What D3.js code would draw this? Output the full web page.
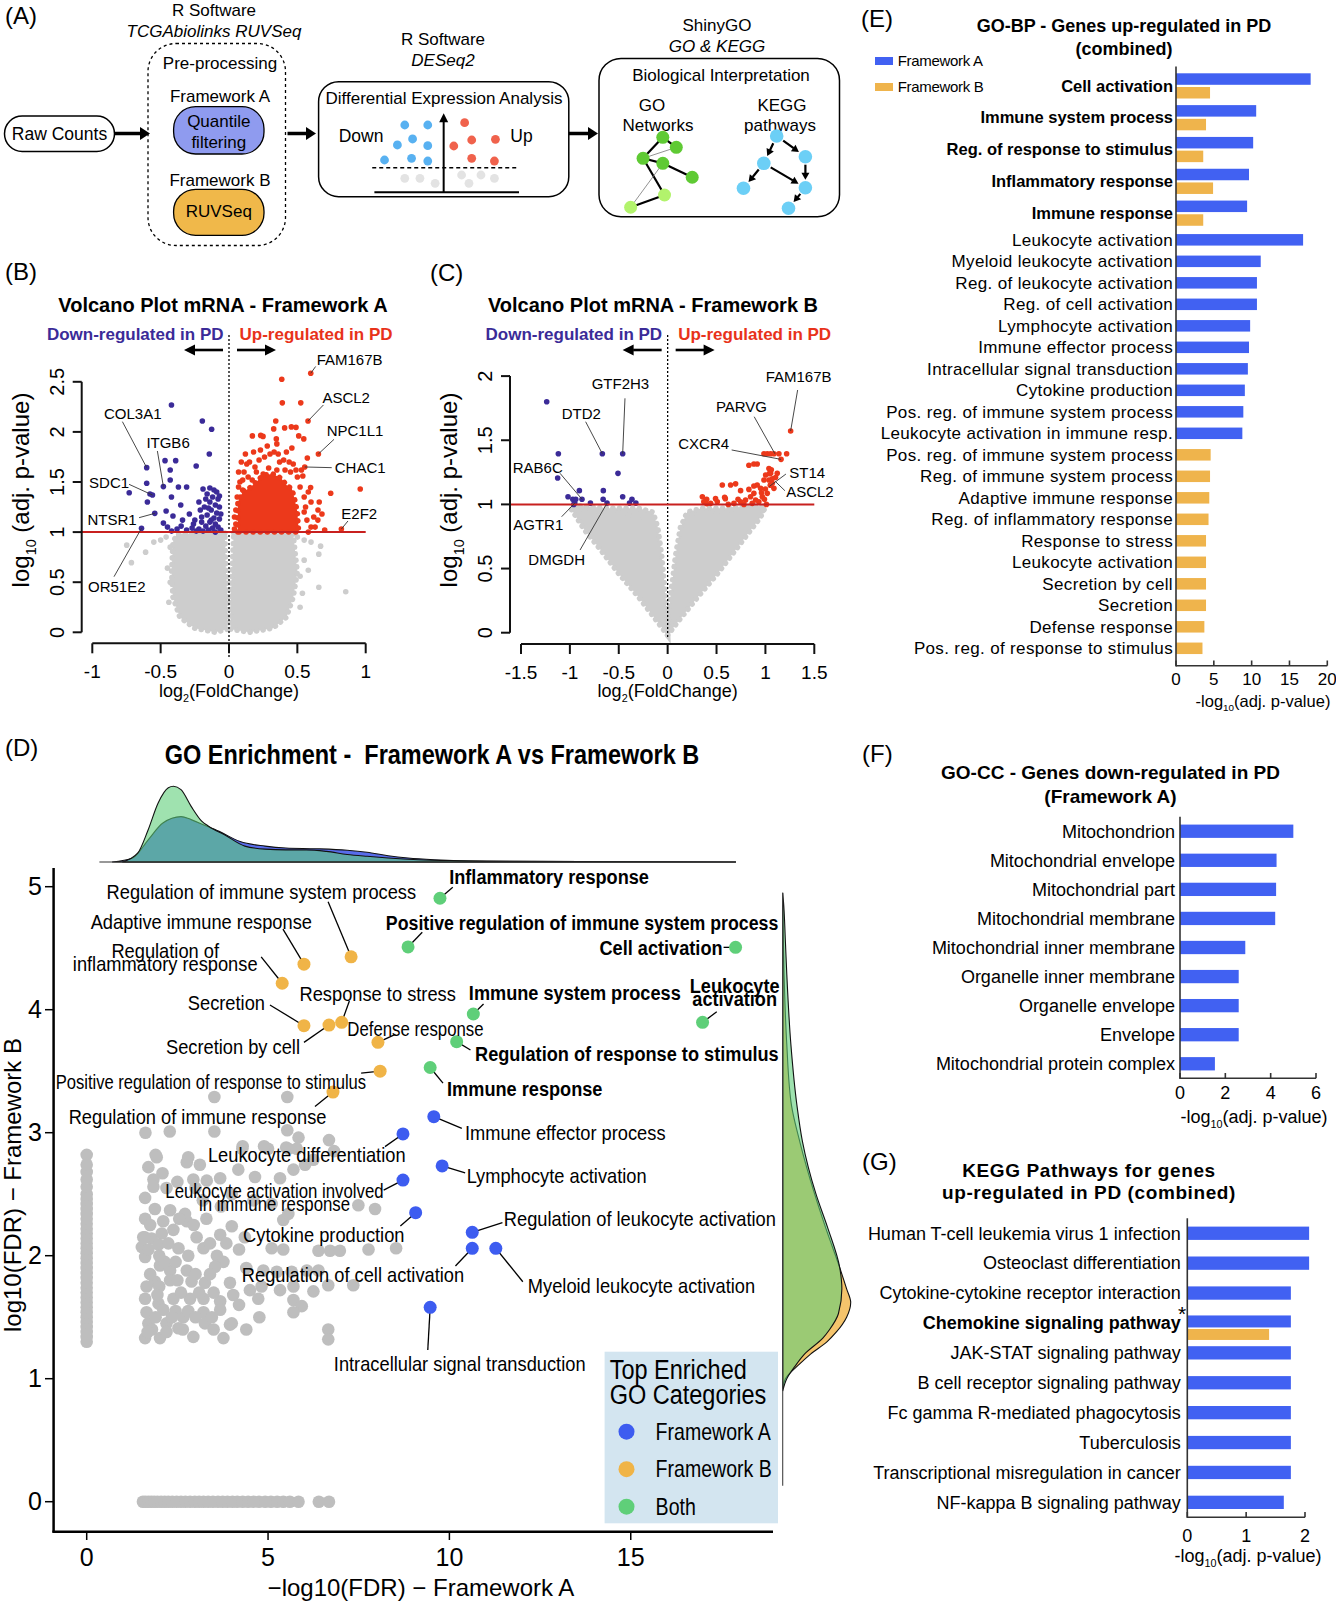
<!DOCTYPE html>
<html>
<head>
<meta charset="utf-8">
<script src="https://cdn.jsdelivr.net/npm/d3@7/dist/d3.min.js"></script>
<style>
html,body{margin:0;padding:0;background:#fff;}
svg{display:block;}
text{white-space:pre;}
</style>
</head>
<body>
<svg id="fig" width="1336" height="1605" xmlns="http://www.w3.org/2000/svg"></svg>
<script>
// ======================= DATA =======================
// ---- Panel A schematic (abstract icon units) ----
const deIconDown = [[2.10,8.52],[3.69,8.52],[1.59,5.99],[2.64,6.75],[3.69,5.90],[0.70,4.09],[2.57,4.30],[3.69,3.96]];
const deIconUp = [[6.24,8.81],[5.49,5.86],[6.73,6.62],[8.37,6.71],[6.73,4.30],[8.30,3.96]];
const deIconNS = [[2.10,1.77],[3.15,1.77],[4.20,1.14],[6.03,2.19],[6.54,1.14],[7.37,2.19],[8.30,1.77]];
const goNetNodes = [[50.4,8.6,"d"],[68.4,20.4,"d"],[24.1,33.3,"d"],[50.4,39.2,"d"],[89.6,55.6,"d"],[52.7,76.5,"l"],[7.5,90.9,"l"]];
const goNetEdges = [[0,1,1],[0,2,1],[2,3,1],[3,4,1],[2,5,1],[5,6,1],[2,1,0],[3,6,0]];
const keggNodes = [[52.1,7.1],[88.0,31.4],[36.0,39.2],[10.6,68.6],[88.0,67.9],[66.9,92.1]];
const keggEdges = [[0,2],[0,1],[1,4],[2,3],[2,4],[4,5]];

// ---- Panel B: Volcano Framework A  [log2FC, log10 adj p] ----
const volcA_xTicks = [-1,-0.5,0,0.5,1];
const volcA_yTicks = [0,0.5,1,1.5,2,2.5];
const volcA_grayLeft = [[-0.03,0.99],[-0.2,0.99],[-0.38,0.98],[-0.41,0.9],[-0.42,0.6],[-0.41,0.35],[-0.36,0.15],[-0.25,0.04],[-0.1,0.0],[-0.012,0.03],[-0.012,0.3],[-0.025,0.7]];
const volcA_grayRight = [[0.035,0.99],[0.25,0.99],[0.47,0.98],[0.48,0.85],[0.5,0.6],[0.47,0.35],[0.42,0.15],[0.32,0.04],[0.15,0.0],[0.012,0.03],[0.012,0.3],[0.025,0.7]];
const volcA_grayPts = [[-0.748,0.87],[-0.714,0.695],[-0.61,0.80],[-0.55,0.9],[-0.5,0.92],[-0.45,0.64],[0.67,0.86],[0.657,0.78],[0.55,0.72],[0.537,0.39],[0.478,0.46],[0.657,0.45],[0.854,0.405],[0.52,0.56],[0.58,0.62],[-0.46,0.95],[-0.43,0.85],[0.5,0.95],[0.55,0.92],[0.6,0.9],[-0.44,0.3],[0.52,0.25],[-0.43,0.5]];
const volcA_down = [[-0.421,2.268],[-0.195,2.109],[-0.127,2.026],[-0.144,1.78],[-0.602,1.643],[-0.468,1.713],[-0.39,1.713],[-0.43,1.62],[-0.24,1.66],[-0.602,1.487],[-0.48,1.454],[-0.43,1.52],[-0.37,1.45],[-0.31,1.45],[-0.73,1.393],[-0.578,1.38],[-0.56,1.37],[-0.597,1.3],[-0.543,1.187],[-0.64,1.038],[-0.421,1.35],[-0.353,1.27],[-0.46,1.21],[-0.41,1.16],[-0.34,1.12],[-0.29,1.18],[-0.25,1.12],[-0.21,1.22],[-0.17,1.33],[-0.22,1.30],[-0.19,1.43],[-0.14,1.44],[-0.11,1.42],[-0.09,1.40],[-0.16,1.38],[-0.12,1.35],[-0.08,1.33],[-0.14,1.30],[-0.10,1.27],[-0.18,1.25],[-0.07,1.25],[-0.13,1.22],[-0.09,1.19],[-0.16,1.17],[-0.11,1.14],[-0.07,1.13],[-0.20,1.10],[-0.14,1.10],[-0.10,1.08],[-0.17,1.06],[-0.12,1.04],[-0.08,1.05],[-0.06,1.02],[-0.15,1.02],[-0.22,1.03],[-0.27,1.04],[-0.31,1.02],[-0.38,1.03],[-0.45,1.05],[-0.48,1.09],[-0.42,1.01],[-0.35,1.06],[-0.26,1.08],[-0.24,1.01],[-0.19,1.01],[-0.10,1.0],[-0.13,1.12],[-0.06,1.18],[-0.07,1.36],[-0.15,1.24],[-0.20,1.15]];
const volcA_upCore = [[0.065,1.0],[0.065,1.3],[0.1,1.4],[0.15,1.44],[0.2,1.5],[0.25,1.57],[0.32,1.58],[0.38,1.54],[0.42,1.47],[0.46,1.43],[0.48,1.33],[0.5,1.2],[0.51,1.0]];
const volcA_up = [[0.598,2.585],[0.386,2.525],[0.39,2.29],[0.525,2.29],[0.578,2.109],[0.342,2.109],[0.327,2.03],[0.407,2.04],[0.456,2.05],[0.49,2.045],[0.171,1.96],[0.232,1.965],[0.249,1.955],[0.346,1.93],[0.51,1.96],[0.547,1.93],[0.654,1.78],[0.554,1.65],[0.573,1.74],[0.744,1.387],[0.96,1.43],[0.651,1.22],[0.597,1.445],[0.822,1.03],[0.63,1.05],[0.08,1.5],[0.11,1.6],[0.13,1.68],[0.1,1.42],[0.06,1.35],[0.05,1.22],[0.05,1.08],[0.15,1.7],[0.19,1.65],[0.22,1.72],[0.26,1.75],[0.3,1.78],[0.33,1.8],[0.36,1.78],[0.4,1.72],[0.44,1.7],[0.47,1.68],[0.45,1.6],[0.5,1.55],[0.52,1.45],[0.55,1.35],[0.56,1.25],[0.57,1.12],[0.58,1.0],[0.6,1.05],[0.62,1.15],[0.6,1.3],[0.54,1.56],[0.49,1.62],[0.42,1.8],[0.28,1.86],[0.23,1.82],[0.18,1.8],[0.14,1.55],[0.07,1.6],[0.09,1.7],[0.12,1.78],[0.35,1.88],[0.46,1.84],[0.55,1.2],[0.65,1.12],[0.66,1.3],[0.7,1.02],[0.68,1.18],[0.58,1.4],[0.53,1.62],[0.07,1.45],[0.04,1.03],[0.04,1.15],[0.35,1.62],[0.25,1.58],[0.17,1.52],[0.29,1.64],[0.41,1.62],[0.37,1.7],[0.2,1.6],[0.1,1.52]];
const volcA_genes = [
  {gene:"FAM167B", x:0.598, y:2.585}, {gene:"ASCL2", x:0.578, y:2.109}, {gene:"NPC1L1", x:0.654, y:1.78},
  {gene:"CHAC1", x:0.554, y:1.65}, {gene:"E2F2", x:0.822, y:1.03}, {gene:"COL3A1", x:-0.602, y:1.643},
  {gene:"ITGB6", x:-0.48, y:1.454}, {gene:"SDC1", x:-0.56, y:1.37}, {gene:"NTSR1", x:-0.543, y:1.187},
  {gene:"OR51E2", x:-0.64, y:1.038}];

// ---- Panel C: Volcano Framework B ----
const volcB_xTicks = [-1.5,-1,-0.5,0,0.5,1,1.5];
const volcB_yTicks = [0,0.5,1,1.5,2];
const volcB_grayLeft = [[0,-0.02],[-0.12,0.1],[-0.3,0.28],[-0.5,0.46],[-0.7,0.66],[-0.85,0.8],[-0.95,0.92],[-1.0,0.98],[-0.9,0.99],[-0.6,0.97],[-0.3,0.97],[-0.15,0.94],[-0.1,0.82],[-0.06,0.6],[-0.03,0.35],[-0.01,0.15]];
const volcB_grayRight = [[0,-0.02],[0.12,0.1],[0.3,0.27],[0.5,0.45],[0.7,0.65],[0.85,0.8],[0.95,0.9],[1.0,0.98],[0.9,0.99],[0.6,0.97],[0.35,0.97],[0.2,0.94],[0.13,0.82],[0.08,0.6],[0.04,0.35],[0.01,0.15]];
const volcB_grayPts = [[-0.85,0.95],[-0.7,0.93],[-0.55,0.95],[-0.4,0.92],[0.35,0.95],[0.5,0.93],[0.65,0.96],[0.8,0.97],[-0.25,0.9],[0.25,0.92],[-0.98,0.96],[0.97,0.95]];
const volcB_down = [[-1.237,1.80],[-1.118,1.395],[-1.125,1.206],[-1.019,1.06],[-0.97,1.04],[-0.95,1.01],[-0.94,1.04],[-0.903,1.107],[-0.876,1.04],[-0.79,1.01],[-0.668,1.395],[-0.658,1.107],[-0.66,1.04],[-0.62,1.01],[-0.508,1.242],[-0.46,1.395],[-0.46,1.06],[-0.365,1.04],[-0.39,1.01],[-0.325,1.01],[-0.96,1.0]];
const volcB_up = [[1.258,1.572],[0.985,1.395],[1.019,1.395],[1.053,1.395],[1.087,1.395],[1.138,1.395],[1.217,1.395],[1.16,1.351],[0.831,1.305],[0.882,1.315],[0.916,1.315],[1.036,1.279],[1.053,1.242],[1.036,1.19],[1.07,1.164],[1.087,1.125],[1.019,1.086],[0.951,1.125],[0.882,1.086],[0.848,1.06],[0.797,1.034],[0.746,1.021],[0.678,1.008],[0.916,1.151],[0.985,1.19],[0.968,1.06],[0.933,1.021],[0.9,1.034],[0.865,1.008],[0.44,1.008],[0.508,1.021],[0.583,1.055],[1.104,1.21],[1.121,1.242],[1.002,1.229],[0.882,1.143],[0.831,1.117],[0.355,1.06],[0.399,1.04],[0.37,1.02],[0.40,1.005],[0.49,1.045],[0.559,1.151],[0.59,1.045],[0.644,1.151],[0.695,1.16],[0.746,1.107],[1.05,1.15],[1.07,1.2],[1.0,1.12],[0.96,1.09],[0.99,1.04],[1.01,1.0],[1.06,1.27],[1.04,1.24],[0.78,1.0],[0.72,1.04],[0.62,1.0]];
const volcB_genes = [
  {gene:"FAM167B", x:1.258, y:1.572}, {gene:"PARVG", x:1.097, y:1.395}, {gene:"CXCR4", x:1.16, y:1.351},
  {gene:"ST14", x:1.04, y:1.14}, {gene:"ASCL2", x:1.10, y:1.18}, {gene:"GTF2H3", x:-0.46, y:1.395},
  {gene:"DTD2", x:-0.668, y:1.395}, {gene:"RAB6C", x:-0.876, y:1.04}, {gene:"AGTR1", x:-0.95, y:1.01},
  {gene:"DMGDH", x:-0.62, y:1.01}];

// ---- Panel D: GO enrichment  (-log10 FDR A, log10 FDR B) ----
const goNames = ["Inflammatory response","Positive regulation of immune system process","Cell activation","Immune system process","Leukocyte activation","Regulation of response to stimulus","Immune response",
 "Regulation of immune system process","Adaptive immune response","Regulation of inflammatory response","Secretion","Secretion by cell","Response to stress","Defense response","Positive regulation of response to stimulus","Regulation of immune response",
 "Immune effector process","Leukocyte differentiation","Lymphocyte activation","Leukocyte activation involved in immune response","Cytokine production","Regulation of leukocyte activation","Regulation of cell activation","Myeloid leukocyte activation","Intracellular signal transduction"];
const goFDR_A = [9.74,8.86,17.89,10.66,16.98,10.2,9.47, 7.29,5.99,5.39,5.99,6.68,7.03,8.03,8.09,6.79, 9.57,8.72,9.80,8.72,9.07,10.63,10.63,11.28,9.47];
const goFDR_B = [4.906,4.51,4.507,3.965,3.897,3.74,3.53, 4.43,4.37,4.215,3.87,3.875,3.897,3.735,3.50,3.33, 3.13,2.99,2.73,2.615,2.35,2.19,2.06,2.06,1.58];
const goGroup = ["Both","Both","Both","Both","Both","Both","Both","B","B","B","B","B","B","B","B","B","A","A","A","A","A","A","A","A","A"];
const goOther = [[3.52,3.29],[5.53,3.29],[1.62,3.00],[2.29,3.01],[3.52,3.01],[5.53,3.02],[5.84,2.96],[6.68,2.94],[1.90,2.82],[2.80,2.80],[4.29,2.87],[5.00,2.87],[5.56,2.87],[6.82,2.85],[4.89,2.89],[4.30,2.89],[5.50,2.88],[5.79,2.87],
 [1.93,2.80],[2.76,2.76],[3.12,2.74],[1.70,2.72],[2.09,2.67],[1.84,2.62],[1.84,2.56],[4.18,2.70],[4.64,2.64],[5.33,2.63],[5.70,2.70],[6.02,2.74],[6.25,2.78],[3.31,2.61],[3.68,2.63],[2.94,2.62],[2.5,2.6],
 [1.61,2.47],[1.88,2.38],[2.30,2.37],[2.71,2.34],[1.61,2.30],[2.11,2.28],[2.76,2.28],[7.49,2.41],[7.95,2.38],[5.42,2.29],[5.56,2.34],[3.2,2.45],[4.0,2.5],[4.6,2.45],[5.1,2.42],[3.7,2.4],
 [1.56,2.15],[1.79,2.14],[2.07,2.18],[2.39,2.21],[3.03,2.15],[3.68,2.17],[4.00,2.24],[4.36,2.15],
 [1.52,2.07],[1.98,2.09],[2.53,2.06],[3.22,2.06],[5.10,2.06],[5.42,2.05],[6.39,2.04],[6.71,2.04],[6.98,2.04],[7.77,2.05],[8.53,2.06],
 [1.61,1.99],[2.02,1.92],[2.30,1.88],[2.76,1.88],[3.59,2.00],[3.77,1.95],[3.54,1.91],[4.87,1.88],[5.24,1.87],[5.65,1.87],[6.07,1.88],[6.39,1.88],
 [1.88,1.79],[2.30,1.80],[2.89,1.79],[3.26,1.78],[3.95,1.78],[4.50,1.72],[4.82,1.75],[5.33,1.72],[5.70,1.75],[6.25,1.71],[6.66,1.76],[7.35,1.76],
 [1.61,1.65],[1.98,1.61],[2.39,1.65],[2.85,1.65],[3.22,1.65],[3.68,1.63],[4.04,1.68],[4.73,1.65],[5.70,1.64],[5.93,1.59],
 [1.65,1.54],[2.11,1.56],[2.66,1.50],[3.22,1.54],[3.68,1.56],[5.70,1.54],
 [1.70,1.45],[2.20,1.45],[2.53,1.41],[3.26,1.45],[3.95,1.44],[4.76,1.50],
 [1.61,1.33],[2.02,1.33],[2.94,1.34],[3.77,1.33],[6.66,1.40],[6.66,1.32],
 [1.75,1.85],[2.0,1.75],[2.15,1.95],[2.45,1.95],[2.6,1.7],[2.0,2.0],[1.7,2.05],[2.25,2.1],[2.8,2.0],[3.0,1.85],[3.4,1.85],[3.1,1.7],[2.45,1.55],[2.8,1.55],[1.9,1.5],[2.35,1.5],[3.0,1.5],[3.45,1.5],[2.65,1.4],[3.5,1.4],[2.2,1.38],[1.8,1.4],[4.2,1.6],[4.4,1.9],[4.2,2.05],[2.55,2.3],[3.3,2.3],[1.75,2.25],[2.2,2.55],[3.0,2.55],[2.5,1.8],[1.95,1.68],[3.5,1.7],[4.0,1.45],[4.4,1.4],[1.68,1.38],[1.65,1.75],[1.6,2.15],[3.85,2.1],[2.95,2.25],[3.4,2.1]];
const goOnlyB_y = [1.30,1.34,1.38,1.42,1.46,1.50,1.54,1.58,1.62,1.66,1.70,1.74,1.78,1.82,1.86,1.90,1.94,1.98,2.02,2.06,2.10,2.14,2.18,2.22,2.26,2.30,2.34,2.38,2.42,2.46,2.50,2.56,2.62,2.68,2.74,2.82];
const goOnlyA_x = [1.55,1.62,1.70,1.78,1.86,1.95,2.05,2.15,2.25,2.36,2.48,2.60,2.72,2.85,2.98,3.10,3.22,3.35,3.48,3.62,3.75,3.88,4.02,4.15,4.30,4.45,4.60,4.75,4.92,5.08,5.25,5.42,5.60,5.84,6.40,6.68];
const goXTicks = [0,5,10,15];
const goYTicks = [0,1,2,3,4,5];
// marginal densities [value, relative density]
const densTopA = [[0.70,0],[1.27,0.053],[1.69,0.29],[2.10,0.515],[2.60,0.60],[2.88,0.56],[3.23,0.49],[3.65,0.405],[4.23,0.27],[4.92,0.21],[5.49,0.185],[6.32,0.175],[7.18,0.155],[7.73,0.128],[8.31,0.083],[8.86,0.053],[9.58,0.03],[10.27,0.017],[11.67,0.009],[17.90,0]];
const densTopBoth = [[0.98,0],[1.41,0.12],[1.69,0.42],[1.97,0.78],[2.25,0.98],[2.39,1.0],[2.60,0.955],[2.88,0.735],[3.17,0.54],[3.37,0.47],[3.80,0.36],[4.36,0.21],[4.92,0.17],[5.49,0.16],[6.05,0.16],[6.61,0.14],[7.18,0.10],[7.73,0.075],[8.31,0.053],[9.14,0.03],[10.27,0.017],[11.67,0.009],[14.48,0.004],[17.90,0]];
const densRightB = [[4.85,0],[4.29,0.02],[3.72,0.06],[3.22,0.13],[2.93,0.25],[2.50,0.47],[2.23,0.63],[1.90,0.84],[1.73,0.94],[1.62,1.0],[1.50,0.94],[1.38,0.79],[1.30,0.65],[1.20,0.41],[1.12,0.25],[1.0,0.04],[0.92,0]];
const densRightBoth = [[4.95,0],[4.89,0.01],[4.55,0.04],[4.29,0.06],[3.72,0.12],[3.22,0.21],[2.93,0.29],[2.50,0.49],[2.23,0.66],[1.90,0.84],[1.73,0.87],[1.53,0.82],[1.40,0.69],[1.33,0.59],[1.20,0.32],[1.10,0.18],[1.0,0.06],[0.90,0]];

// ---- Panel E: GO-BP up-regulated (combined) ----
const eCategories = ["Cell activation","Immune system process","Reg. of response to stimulus","Inflammatory response","Immune response","Leukocyte activation","Myeloid leukocyte activation","Reg. of leukocyte activation","Reg. of cell activation","Lymphocyte activation","Immune effector process","Intracellular signal transduction","Cytokine production","Pos. reg. of immune system process","Leukocyte activation in immune resp.","Pos. reg. of immune system process","Reg. of immune system process","Adaptive immune response","Reg. of inflammatory response","Response to stress","Leukocyte activation","Secretion by cell","Secretion","Defense response","Pos. reg. of response to stimulus"];
const eValuesA = [17.8,10.6,10.2,9.65,9.4,16.8,11.2,10.7,10.7,9.8,9.65,9.5,9.1,8.9,8.77,null,null,null,null,null,null,null,null,null,null];
const eValuesB = [4.5,3.97,3.6,4.9,3.6,null,null,null,null,null,null,null,null,null,null,4.58,4.5,4.4,4.3,3.97,3.97,3.97,3.97,3.75,3.5];
const eTicks = [0,5,10,15,20];

// ---- Panel F: GO-CC down-regulated (Framework A) ----
const fCategories = ["Mitochondrion","Mitochondrial envelope","Mitochondrial part","Mitochondrial membrane","Mitochondrial inner membrane","Organelle inner membrane","Organelle envelope","Envelope","Mitochondrial protein complex"];
const fValues = [5.0,4.26,4.24,4.2,2.88,2.59,2.59,2.59,1.54];
const fTicks = [0,2,4,6];

// ---- Panel G: KEGG up-regulated (combined) ----
const gCategories = ["Human T-cell leukemia virus 1 infection","Osteoclast differentiation","Cytokine-cytokine receptor interaction","Chemokine signaling pathway","JAK-STAT signaling pathway","B cell receptor signaling pathway","Fc gamma R-mediated phagocytosis","Tuberculosis","Transcriptional misregulation in cancer","NF-kappa B signaling pathway"];
const gValuesA = [2.07,2.07,1.76,1.76,1.76,1.76,1.76,1.76,1.76,1.64];
const gValuesB = [null,null,null,1.39,null,null,null,null,null,null];
const gTicks = [0,1,2];

// ======================= STYLE / LAYOUT =======================
const SANS = "'Liberation Sans', Arial, Helvetica, sans-serif";
const C = {
  volDown:"#3b2b98", volUp:"#ec391b", volGray:"#cdcdcd", thr:"#c8201f",
  blue:"#3d5cf0", orange:"#f0b447", green:"#5fcf79", gray:"#bebebe",
  barBlue:"#4161f2", barOrange:"#efb44c", legendBg:"#d3e5f0"
};
const volcA_layout = {
  FAM167B:{tx:5.9,ty:-13.3,lx:4.9,ly:-6.8}, ASCL2:{tx:14.4,ty:-23.7,lx:15.4,ly:-16}, NPC1L1:{tx:8.3,ty:-23.2,lx:15.6,ly:-14.6},
  CHAC1:{tx:30,ty:0.7,lx:27,ly:0.7}, E2F2:{tx:0,ty:-15.8,lx:6.6,ly:-8.1}, COL3A1:{tx:-42.7,ty:-54.4,lx:-24.3,ly:-46},
  ITGB6:{tx:-17,ty:-43.9,lx:-6,ly:-35.6}, SDC1:{tx:-63.4,ty:-12.7,lx:-23.4,ly:-10.7}, NTSR1:{tx:-67.3,ty:6.6,lx:-15.7,ly:4.3},
  OR51E2:{tx:-53.5,ty:58.4,lx:-27.5,ly:48.4}};
const volcB_layout = {
  FAM167B:{tx:-25,ty:-54.3,lx:7,ly:-41}, PARVG:{tx:-59,ty:-47,lx:-20.7,ly:-37}, CXCR4:{tx:-102.8,ty:-16.1,lx:-49.4,ly:-9.4},
  ST14:{tx:19.9,ty:-13.7,lx:16.6,ly:-12.4}, ASCL2:{tx:11,ty:10.4,lx:9.7,ly:9.4}, GTF2H3:{tx:-31,ty:-69.7,lx:2.3,ly:-55.4},
  DTD2:{tx:-40.7,ty:-39.7,lx:-16.7,ly:-32}, RAB6C:{tx:-69.3,ty:-32,lx:-22,ly:-26}, AGTR1:{tx:-61.5,ty:21.9,lx:-13.1,ly:13.6},
  DMGDH:{tx:-78.7,ty:56.9,lx:-27,ly:46.9}};
const goLayout = [
  {tx:9.2,ty:-21.6,a:"start",lx:12.8,ly:-11},
  {tx:-22.2,ty:-24.4,a:"start",lx:14.2,ly:-14.7,sx:0.845},
  {tx:-13,ty:0,a:"end",lx:-12,ly:0},
  {tx:-4.5,ty:-21.3,a:"start",lx:10.2,ly:-10},
  {tx:32.1,ty:-36.6,a:"middle",lx:14.2,ly:-10.6,lines:["Leukocyte","activation"]},
  {tx:18.4,ty:12.3,a:"start",lx:13.8,ly:8.3},
  {tx:16.9,ty:21,a:"start",lx:12.8,ly:15.7},
  {tx:65,ty:-65,a:"end",lx:-23,ly:-55},
  {tx:8,ty:-43,a:"end",lx:-21,ly:-35},
  {tx:-117,ty:-32.6,a:"middle",lx:-21,ly:-26.3,lines:["Regulation of","inflammatory response"]},
  {tx:-39,ty:-23.4,a:"end",lx:-34,ly:-20.7},
  {tx:-29,ty:21.7,a:"end",lx:-25,ly:17.3},
  {tx:36,ty:-29,a:"middle",lx:7.7,ly:-21.3},
  {tx:37.5,ty:-14,a:"middle",lx:17.4,ly:-8,sx:0.8},
  {tx:-14,ty:10.7,a:"end",lx:-19,ly:2,sx:0.79},
  {tx:-6.5,ty:25,a:"end",lx:-18,ly:14.4},
  {tx:31.1,ty:15.6,a:"start",lx:28,ly:11.6},
  {tx:2.6,ty:21,a:"end",lx:-18,ly:12.7},
  {tx:24.5,ty:9.3,a:"start",lx:23,ly:7},
  {tx:-128.5,ty:10.7,a:"middle",lx:-19.3,ly:10,lines:["Leukocyte activation involved","in immune response"],sx:0.8},
  {tx:-11.2,ty:22.3,a:"end",lx:-15.3,ly:13.3},
  {tx:31.6,ty:-13.3,a:"start",lx:30.2,ly:-9.6},
  {tx:-8.1,ty:26.7,a:"end",lx:-16.8,ly:17.7},
  {tx:32,ty:37.4,a:"start",lx:27,ly:33.4},
  {tx:29.5,ty:56,a:"middle",lx:-2.4,ly:42.7}];

// ======================= HELPERS =======================
const svg = d3.select("#fig");
function T(g, x, y, str, o = {}) {
  const t = g.append("text").attr("dy", "0.35em")
    .attr("font-family", o.family || SANS).attr("font-size", o.size || 16)
    .attr("font-weight", o.weight || "normal").attr("text-anchor", o.anchor || "start")
    .attr("fill", o.fill || "#000");
  if (o.sx) {
    t.attr("x", 0).attr("y", 0).attr("transform", `translate(${x},${y}) scale(${o.sx},1)`);
  } else {
    t.attr("x", x).attr("y", y);
    if (o.rotate) t.attr("transform", `rotate(${o.rotate},${x},${y})`);
  }
  if (o.italic) t.attr("font-style", "italic");
  if (o.ls != null) t.attr("letter-spacing", o.ls);
  t.text(str);
  return t;
}
function TS(g, x, y, parts, o = {}) {
  const size = o.size || 16;
  const t = g.append("text").attr("x", x).attr("y", y).attr("dy", "0.35em")
    .attr("font-family", o.family || SANS).attr("font-size", size)
    .attr("text-anchor", o.anchor || "middle").attr("fill", "#000");
  if (o.rotate) t.attr("transform", `rotate(${o.rotate},${x},${y})`);
  let shifted = false;
  parts.forEach(([s, sub]) => {
    const ts = t.append("tspan").text(s);
    if (sub) { ts.attr("font-size", size * 0.6).attr("dy", size * 0.28); shifted = true; }
    else if (shifted) { ts.attr("dy", -size * 0.28); shifted = false; }
  });
  return t;
}
function arrow(g, x1, y1, x2, y2, w, hl, hw) {
  const ang = Math.atan2(y2 - y1, x2 - x1);
  const bx = x2 - hl * Math.cos(ang), by = y2 - hl * Math.sin(ang);
  g.append("line").attr("x1", x1).attr("y1", y1).attr("x2", bx + 0.5 * Math.cos(ang)).attr("y2", by + 0.5 * Math.sin(ang))
    .attr("stroke", "#000").attr("stroke-width", w);
  const px = -Math.sin(ang), py = Math.cos(ang);
  g.append("path").attr("d", `M${x2},${y2}L${bx + px * hw / 2},${by + py * hw / 2}L${bx - px * hw / 2},${by - py * hw / 2}Z`).attr("fill", "#000");
}

// ======================= PANEL A =======================
(function(){
  const g = svg.append("g");
  T(g, 5, 16, "(A)", {size:24});
  g.append("rect").attr("x",4.5).attr("y",116).attr("width",110).attr("height",35.5).attr("rx",17.7).attr("fill","#fff").attr("stroke","#000").attr("stroke-width",1.5);
  T(g, 59.5, 133.5, "Raw Counts", {size:17.5, anchor:"middle"});
  arrow(g, 114.5, 133.5, 150, 133.5, 3.5, 10, 13);
  T(g, 214, 10, "R Software", {size:17, anchor:"middle"});
  T(g, 214, 31.5, "TCGAbiolinks RUVSeq", {size:17, anchor:"middle", italic:true});
  g.append("rect").attr("x",148).attr("y",43.5).attr("width",137.5).attr("height",202).attr("rx",28).attr("fill","none").attr("stroke","#000").attr("stroke-width",1.3).attr("stroke-dasharray","3,3");
  T(g, 220, 63.5, "Pre-processing", {size:17, anchor:"middle"});
  T(g, 220, 96, "Framework A", {size:17, anchor:"middle"});
  g.append("rect").attr("x",173.6).attr("y",106.7).attr("width",90.4).attr("height",47.3).attr("rx",22).attr("fill","#8f9bef").attr("stroke","#000").attr("stroke-width",1.3);
  T(g, 218.8, 120.7, "Quantile", {size:17, anchor:"middle"});
  T(g, 218.8, 141.7, "filtering", {size:17, anchor:"middle"});
  T(g, 220, 180, "Framework B", {size:17, anchor:"middle"});
  g.append("rect").attr("x",173.6).attr("y",189.3).attr("width",90.4).attr("height",46).attr("rx",22).attr("fill","#f0b84a").attr("stroke","#000").attr("stroke-width",1.3);
  T(g, 218.8, 211.5, "RUVSeq", {size:17, anchor:"middle"});
  arrow(g, 287.5, 133.5, 316, 133.5, 3.5, 10, 13);
  T(g, 443, 39.5, "R Software", {size:17, anchor:"middle"});
  T(g, 443, 60, "DESeq2", {size:17, anchor:"middle", italic:true});
  g.append("rect").attr("x",318.6).attr("y",81.7).attr("width",250.2).attr("height",115).attr("rx",20).attr("fill","#fff").attr("stroke","#000").attr("stroke-width",1.5);
  T(g, 444, 98.3, "Differential Expression Analysis", {size:17, anchor:"middle"});
  T(g, 361, 136, "Down", {size:17.5, anchor:"middle"});
  T(g, 521.5, 136, "Up", {size:17.5, anchor:"middle"});
  const ix = d3.scaleLinear().domain([0,10]).range([374.4,519]);
  const iy = d3.scaleLinear().domain([0,10]).range([192.3,113.3]);
  g.append("line").attr("x1",ix(-0.15)).attr("x2",ix(10)).attr("y1",iy(3.11)).attr("y2",iy(3.11)).attr("stroke","#000").attr("stroke-width",1.5).attr("stroke-dasharray","4,3");
  g.selectAll(null).data(deIconNS).join("circle").attr("cx",d=>ix(d[0])).attr("cy",d=>iy(d[1])).attr("r",4.4).attr("fill","#e3e3e3");
  g.selectAll(null).data(deIconDown).join("circle").attr("cx",d=>ix(d[0])).attr("cy",d=>iy(d[1])).attr("r",4.4).attr("fill","#58b1f1");
  g.selectAll(null).data(deIconUp).join("circle").attr("cx",d=>ix(d[0])).attr("cy",d=>iy(d[1])).attr("r",4.4).attr("fill","#f0624c");
  g.append("line").attr("x1",ix(0)).attr("x2",ix(10)).attr("y1",iy(0)).attr("y2",iy(0)).attr("stroke","#000").attr("stroke-width",2);
  arrow(g, ix(4.79), iy(0), ix(4.79), iy(10), 2, 9, 9);
  arrow(g, 568.8, 133.5, 598, 133.5, 3.5, 10, 13);
  T(g, 717, 25, "ShinyGO", {size:17, anchor:"middle"});
  T(g, 717, 46.5, "GO & KEGG", {size:17, anchor:"middle", italic:true});
  g.append("rect").attr("x",599).attr("y",58.4).attr("width",240.5).attr("height",158.3).attr("rx",22).attr("fill","#fff").attr("stroke","#000").attr("stroke-width",1.5);
  T(g, 721, 75, "Biological Interpretation", {size:17, anchor:"middle"});
  T(g, 652, 105, "GO", {size:17, anchor:"middle"});
  T(g, 658, 125, "Networks", {size:17, anchor:"middle"});
  T(g, 782, 105, "KEGG", {size:17, anchor:"middle"});
  T(g, 780, 125, "pathways", {size:17, anchor:"middle"});
  const nx = d3.scaleLinear().domain([0,100]).range([625,700]);
  const ny = d3.scaleLinear().domain([0,100]).range([130,215]);
  goNetEdges.forEach(([a,b,thick])=>{
    g.append("line").attr("x1",nx(goNetNodes[a][0])).attr("y1",ny(goNetNodes[a][1])).attr("x2",nx(goNetNodes[b][0])).attr("y2",ny(goNetNodes[b][1]))
      .attr("stroke",thick?"#000":"#777").attr("stroke-width",thick?2.2:0.8);
  });
  g.selectAll(null).data(goNetNodes).join("circle").attr("cx",d=>nx(d[0])).attr("cy",d=>ny(d[1])).attr("r",6.5)
    .attr("fill",d=>d[2]==="d"?"#5fca34":"#b2f36c");
  const kx = d3.scaleLinear().domain([0,100]).range([735,815]);
  keggEdges.forEach(([a,b])=>{
    const x1=kx(keggNodes[a][0]), y1=ny(keggNodes[a][1]), x2=kx(keggNodes[b][0]), y2=ny(keggNodes[b][1]);
    const ang=Math.atan2(y2-y1,x2-x1), r=8;
    arrow(g, x1+r*Math.cos(ang), y1+r*Math.sin(ang), x2-r*Math.cos(ang), y2-r*Math.sin(ang), 2.2, 7, 8);
  });
  g.selectAll(null).data(keggNodes).join("circle").attr("cx",d=>kx(d[0])).attr("cy",d=>ny(d[1])).attr("r",6.8).attr("fill","#6ccff6");
})();

// ======================= VOLCANO PANELS =======================
function volcano(o) {
  const g = svg.append("g");
  const x = d3.scaleLinear().domain(o.xDomain).range(o.xRange);
  const y = d3.scaleLinear().domain(o.yDomain).range(o.yRange);
  T(g, o.tagX, o.tagY, o.tag, {size:24});
  T(g, o.titleX, 305, o.title, {size:20, weight:"bold", anchor:"middle"});
  T(g, x(0) - 5.5, 334, "Down-regulated in PD", {size:17, weight:"bold", anchor:"end", fill:C.volDown});
  T(g, x(0) + 10.5, 334, "Up-regulated in PD", {size:17, weight:"bold", anchor:"start", fill:"#e8321a"});
  arrow(g, x(0) - 6, 350, x(0) - 45, 350, 2.6, 11, 11);
  arrow(g, x(0) + 8, 350, x(0) + 47, 350, 2.6, 11, 11);
  const poly = d3.line().x(d=>x(d[0])).y(d=>y(d[1])).curve(d3.curveLinearClosed);
  [o.grayL, o.grayR].forEach(p => g.append("path").attr("d", poly(p)).attr("fill", C.volGray)
    .attr("stroke", C.volGray).attr("stroke-width", 5.5).attr("stroke-linecap","round").attr("stroke-dasharray","0.1,6.5"));
  g.selectAll(null).data(o.grayPts).join("circle").attr("cx",d=>x(d[0])).attr("cy",d=>y(d[1])).attr("r",2.8).attr("fill",C.volGray);
  g.append("line").attr("x1",x(0)).attr("x2",x(0)).attr("y1",335).attr("y2",o.dotEnd).attr("stroke","#000").attr("stroke-width",1.3).attr("stroke-dasharray","2,2");
  if (o.upCore) g.append("path").attr("d", poly(o.upCore)).attr("fill", C.volUp)
    .attr("stroke", C.volUp).attr("stroke-width", 5.5).attr("stroke-linecap","round").attr("stroke-dasharray","0.1,7");
  g.selectAll(null).data(o.down).join("circle").attr("cx",d=>x(d[0])).attr("cy",d=>y(d[1])).attr("r",2.8).attr("fill",C.volDown);
  g.selectAll(null).data(o.up).join("circle").attr("cx",d=>x(d[0])).attr("cy",d=>y(d[1])).attr("r",2.8).attr("fill",C.volUp);
  g.append("line").attr("x1",o.yAxisX).attr("x2",x(o.xDomain[1])).attr("y1",y(1)).attr("y2",y(1)).attr("stroke",C.thr).attr("stroke-width",2);
  const ax = g.append("g").attr("stroke","#111").attr("stroke-width",2);
  ax.append("line").attr("x1",o.yAxisX).attr("x2",o.yAxisX).attr("y1",y(o.yTicks[0])).attr("y2",y(o.yTicks[o.yTicks.length-1]));
  o.yTicks.forEach(v=>{
    ax.append("line").attr("x1",o.yAxisX-9).attr("x2",o.yAxisX).attr("y1",y(v)).attr("y2",y(v));
    T(g, o.yAxisX-25, y(v), String(v), {size:20, anchor:"middle", rotate:-90});
  });
  ax.append("line").attr("x1",x(o.xTicks[0])).attr("x2",x(o.xTicks[o.xTicks.length-1])).attr("y1",o.xAxisY).attr("y2",o.xAxisY);
  o.xTicks.forEach(v=>{
    ax.append("line").attr("x1",x(v)).attr("x2",x(v)).attr("y1",o.xAxisY).attr("y2",o.xAxisY+10);
    T(g, x(v), o.xAxisY+28, String(v), {size:19, anchor:"middle"});
  });
  TS(g, x(0), o.xAxisY+47, [["log",0],["2",1],["(FoldChange)",0]], {size:18});
  TS(g, o.yAxisX-61, 490, [["log",0],["10",1],[" (adj. p-value)",0]], {size:24, rotate:-90});
  o.genes.forEach(d=>{
    const L = o.layout[d.gene], px = x(d.x), py = y(d.y);
    g.append("line").attr("x1",px).attr("y1",py).attr("x2",px+L.lx).attr("y2",py+L.ly).attr("stroke","#333").attr("stroke-width",0.9);
    T(g, px+L.tx, py+L.ty, d.gene, {size:15});
  });
}
volcano({tag:"(B)", tagX:5, tagY:272, title:"Volcano Plot mRNA - Framework A", titleX:223,
  xDomain:[-1,1], xRange:[92.3,365.7], yDomain:[0,2.5], yRange:[632.3,381.8],
  xTicks:volcA_xTicks, yTicks:volcA_yTicks, yAxisX:81.7, xAxisY:643.3, dotEnd:658,
  grayL:volcA_grayLeft, grayR:volcA_grayRight, grayPts:volcA_grayPts, down:volcA_down, up:volcA_up, upCore:volcA_upCore,
  genes:volcA_genes, layout:volcA_layout});
volcano({tag:"(C)", tagX:430, tagY:273, title:"Volcano Plot mRNA - Framework B", titleX:653,
  xDomain:[-1.5,1.5], xRange:[521,814.3], yDomain:[0,2], yRange:[632.7,376.1],
  xTicks:volcB_xTicks, yTicks:volcB_yTicks, yAxisX:510, xAxisY:644, dotEnd:637,
  grayL:volcB_grayLeft, grayR:volcB_grayRight, grayPts:volcB_grayPts, down:volcB_down, up:volcB_up, upCore:null,
  genes:volcB_genes, layout:volcB_layout});

// ======================= PANEL D =======================
(function(){
  const g = svg.append("g");
  const x = d3.scaleLinear().domain([0,15]).range([86.7, 86.7 + 36.27*15]);
  const y = d3.scaleLinear().domain([0,5]).range([1501.7, 1501.7 - 123*5]);
  const colorOf = {A:C.blue, B:C.orange, Both:C.green};
  T(g, 5, 748, "(D)", {size:24});
  T(g, 432, 755, "GO Enrichment -  Framework A vs Framework B", {size:27, weight:"bold", anchor:"middle", sx:0.87});
  const yTop = d3.scaleLinear().domain([0,1]).range([862, 786.3]);
  const areaTop = d3.area().x(d=>x(d[0])).y0(yTop(0)).y1(d=>yTop(d[1])).curve(d3.curveMonotoneX);
  g.append("path").attr("d", areaTop(densTopA)).attr("fill","#4a5fe8").attr("fill-opacity",0.92).attr("stroke","#111").attr("stroke-width",1.1);
  g.append("path").attr("d", areaTop(densTopBoth)).attr("fill",C.green).attr("fill-opacity",0.6).attr("stroke","#111").attr("stroke-width",1.1);
  g.append("line").attr("x1",x(0.35)).attr("x2",x(17.9)).attr("y1",yTop(0)).attr("y2",yTop(0)).attr("stroke","#333").attr("stroke-width",1.2);
  const xR = d3.scaleLinear().domain([0,1]).range([782.7, 850.7]);
  const areaR = d3.area().y(d=>y(d[0])).x0(xR(0)).x1(d=>xR(d[1])).curve(d3.curveMonotoneY);
  g.append("path").attr("d", areaR(densRightB)).attr("fill","#f5c46c").attr("stroke","#111").attr("stroke-width",1.1);
  g.append("path").attr("d", areaR(densRightBoth)).attr("fill",C.green).attr("fill-opacity",0.6).attr("stroke","#111").attr("stroke-width",1.1);
  g.append("line").attr("x1",xR(0)).attr("x2",xR(0)).attr("y1",y(4.95)).attr("y2",y(0.13)).attr("stroke","#444").attr("stroke-width",1.1);
  const ax = g.append("g").attr("stroke","#000").attr("stroke-width",2.5);
  ax.append("line").attr("x1",53.6).attr("x2",53.6).attr("y1",868).attr("y2",1532.5);
  ax.append("line").attr("x1",52.4).attr("x2",773).attr("y1",1531.7).attr("y2",1531.7);
  goYTicks.forEach(v=>{
    ax.append("line").attr("x1",45).attr("x2",53.6).attr("y1",y(v)).attr("y2",y(v)).attr("stroke-width",1.5);
    T(g, 42, y(v), String(v), {size:25, anchor:"end"});
  });
  goXTicks.forEach(v=>{
    ax.append("line").attr("x1",x(v)).attr("x2",x(v)).attr("y1",1531.7).attr("y2",1540).attr("stroke-width",1.5);
    T(g, x(v), 1557, String(v), {size:25, anchor:"middle"});
  });
  T(g, 421, 1588, "\u2212log10(FDR) \u2212 Framework A", {size:24, anchor:"middle"});
  T(g, 13, 1185, "log10(FDR) \u2212 Framework B", {size:24, anchor:"middle", rotate:-90});
  const grey = goOther.concat(goOnlyB_y.map(v=>[0,v]), goOnlyA_x.map(v=>[v,0]));
  g.selectAll(null).data(grey).join("circle").attr("cx",d=>x(d[0])).attr("cy",d=>y(d[1])).attr("r",6.3).attr("fill",C.gray);
  goNames.forEach((n,i)=>{
    const L = goLayout[i], px = x(goFDR_A[i]), py = y(goFDR_B[i]);
    g.append("line").attr("x1",px).attr("y1",py).attr("x2",px+L.lx).attr("y2",py+L.ly).attr("stroke","#000").attr("stroke-width",1.3);
  });
  g.selectAll(null).data(goNames).join("circle").attr("cx",(d,i)=>x(goFDR_A[i])).attr("cy",(d,i)=>y(goFDR_B[i])).attr("r",6.5)
    .attr("fill",(d,i)=>colorOf[goGroup[i]]);
  goNames.forEach((n,i)=>{
    const L = goLayout[i], px = x(goFDR_A[i]), py = y(goFDR_B[i]);
    const lines = L.lines || [n];
    const bold = goGroup[i]==="Both";
    const sx = L.sx || (bold ? 0.865 : 0.87);
    lines.forEach((s,k)=>T(g, px+L.tx, py+L.ty+k*13.3, s, {size:21, anchor:L.a, weight:bold?"bold":"normal", sx:sx}));
  });
  const lg = g.append("g");
  lg.append("rect").attr("x",604.6).attr("y",1351.7).attr("width",173.4).attr("height",171.6).attr("fill",C.legendBg);
  T(lg, 609.7, 1370, "Top Enriched", {size:27, sx:0.87});
  T(lg, 609.7, 1395, "GO Categories", {size:27, sx:0.87});
  [["Framework A",C.blue],["Framework B",C.orange],["Both",C.green]].forEach(([s,c],k)=>{
    lg.append("circle").attr("cx",626.5).attr("cy",1431.7+k*37.5).attr("r",8).attr("fill",c);
    T(lg, 655.6, 1431.7+k*37.5, s, {size:23, sx:0.85});
  });
})();

// ======================= PANEL E =======================
(function(){
  const g = svg.append("g");
  T(g, 861, 19, "(E)", {size:24});
  T(g, 1124, 25.3, "GO-BP - Genes up-regulated in PD", {size:18, weight:"bold", anchor:"middle"});
  T(g, 1124, 48.2, "(combined)", {size:18, weight:"bold", anchor:"middle"});
  g.append("rect").attr("x",875).attr("y",57).attr("width",18).attr("height",8).attr("fill",C.barBlue);
  T(g, 897.7, 61, "Framework A", {size:15, ls:-0.3});
  g.append("rect").attr("x",875).attr("y",83).attr("width",18).attr("height",8).attr("fill",C.barOrange);
  T(g, 897.7, 87, "Framework B", {size:15, ls:-0.3});
  const x = d3.scaleLinear().domain([0,20]).range([1176,1327.3]);
  const centers = []; let cum = 0;
  eCategories.forEach((c,i)=>{ const w = (eValuesA[i]!=null && eValuesB[i]!=null) ? 1.48 : 1; centers.push(cum + w/2); cum += w; });
  const y = d3.scaleLinear().domain([centers[0], centers[centers.length-1]]).range([85.9, 648.3]);
  const h = 11.5;
  eCategories.forEach((c,i)=>{
    const paired = eValuesA[i]!=null && eValuesB[i]!=null;
    const cy = y(centers[i]);
    if (paired) {
      g.append("rect").attr("x",x(0)).attr("y",cy-6.85-h/2).attr("width",x(eValuesA[i])-x(0)).attr("height",h).attr("fill",C.barBlue);
      g.append("rect").attr("x",x(0)).attr("y",cy+6.85-h/2).attr("width",x(eValuesB[i])-x(0)).attr("height",h).attr("fill",C.barOrange);
      T(g, 1173, cy, c, {size:16.5, weight:"bold", anchor:"end"});
    } else {
      const v = eValuesA[i]!=null ? eValuesA[i] : eValuesB[i];
      g.append("rect").attr("x",x(0)).attr("y",cy-h/2).attr("width",x(v)-x(0)).attr("height",h).attr("fill",eValuesA[i]!=null?C.barBlue:C.barOrange);
      T(g, 1173, cy, c, {size:17, anchor:"end", ls:0.35});
    }
  });
  const ax = g.append("g").attr("stroke","#333").attr("stroke-width",1.6);
  ax.append("line").attr("x1",x(0)).attr("x2",x(0)).attr("y1",66.6).attr("y2",666.5);
  ax.append("line").attr("x1",x(0)).attr("x2",x(20)).attr("y1",665.7).attr("y2",665.7);
  eTicks.forEach(v=>{
    ax.append("line").attr("x1",x(v)).attr("x2",x(v)).attr("y1",665.7).attr("y2",660.5);
    T(g, x(v), 679, String(v), {size:17, anchor:"middle"});
  });
  TS(g, 1263, 701, [["-log",0],["10",1],["(adj. p-value)",0]], {size:16.5});
})();

// ======================= PANEL F =======================
(function(){
  const g = svg.append("g");
  T(g, 862, 753.5, "(F)", {size:24});
  T(g, 1110.5, 772.3, "GO-CC - Genes down-regulated in PD", {size:19, weight:"bold", anchor:"middle"});
  T(g, 1110.5, 796, "(Framework A)", {size:19, weight:"bold", anchor:"middle"});
  const x = d3.scaleLinear().domain([0,6]).range([1180,1316]);
  const y = d3.scaleBand().domain(fCategories).range([816.7,1078.3]);
  fCategories.forEach((c,i)=>{
    const cy = y(c) + y.bandwidth()/2;
    g.append("rect").attr("x",x(0)).attr("y",cy-6.65).attr("width",x(fValues[i])-x(0)).attr("height",13.3).attr("fill",C.barBlue);
    T(g, 1175, cy, c, {size:18, anchor:"end"});
  });
  const ax = g.append("g").attr("stroke","#333").attr("stroke-width",1.6);
  ax.append("line").attr("x1",x(0)).attr("x2",x(0)).attr("y1",816.7).attr("y2",1079);
  ax.append("line").attr("x1",x(0)).attr("x2",x(6)).attr("y1",1078.3).attr("y2",1078.3);
  fTicks.forEach(v=>{
    ax.append("line").attr("x1",x(v)).attr("x2",x(v)).attr("y1",1078.3).attr("y2",1073);
    T(g, x(v), 1093, String(v), {size:18, anchor:"middle"});
  });
  TS(g, 1254, 1117, [["-log",0],["10",1],["(adj. p-value)",0]], {size:18});
})();

// ======================= PANEL G =======================
(function(){
  const g = svg.append("g");
  T(g, 862, 1162, "(G)", {size:24});
  T(g, 1089, 1170, "KEGG Pathways for genes", {size:19, weight:"bold", anchor:"middle", ls:0.6});
  T(g, 1089, 1192.7, "up-regulated in PD (combined)", {size:19, weight:"bold", anchor:"middle", ls:0.6});
  const x = d3.scaleLinear().domain([0,2]).range([1187.3,1305]);
  const y = d3.scaleBand().domain(gCategories).range([1218.3,1517.3]);
  gCategories.forEach((c,i)=>{
    const cy = y(c) + y.bandwidth()/2;
    const paired = gValuesB[i]!=null;
    if (paired) {
      g.append("rect").attr("x",x(0)).attr("y",cy-1.5-6).attr("width",x(gValuesA[i])-x(0)).attr("height",12).attr("fill",C.barBlue);
      g.append("rect").attr("x",x(0)).attr("y",cy+11.5-5.5).attr("width",x(gValuesB[i])-x(0)).attr("height",11).attr("fill",C.barOrange);
      T(g, 1180.7, cy, c, {size:18, anchor:"end", weight:"bold"});
      T(g, 1178, cy-9, "*", {size:21, anchor:"start"});
    } else {
      g.append("rect").attr("x",x(0)).attr("y",cy-6.65).attr("width",x(gValuesA[i])-x(0)).attr("height",13.3).attr("fill",C.barBlue);
      T(g, 1180.7, cy, c, {size:18, anchor:"end"});
    }
  });
  const ax = g.append("g").attr("stroke","#333").attr("stroke-width",1.6);
  ax.append("line").attr("x1",x(0)).attr("x2",x(0)).attr("y1",1218.3).attr("y2",1518);
  ax.append("line").attr("x1",x(0)).attr("x2",x(2)).attr("y1",1517.3).attr("y2",1517.3);
  gTicks.forEach(v=>{
    ax.append("line").attr("x1",x(v)).attr("x2",x(v)).attr("y1",1517.3).attr("y2",1512);
    T(g, x(v), 1536, String(v), {size:18, anchor:"middle"});
  });
  TS(g, 1248, 1556, [["-log",0],["10",1],["(adj. p-value)",0]], {size:18});
})();
</script>
</body>
</html>
